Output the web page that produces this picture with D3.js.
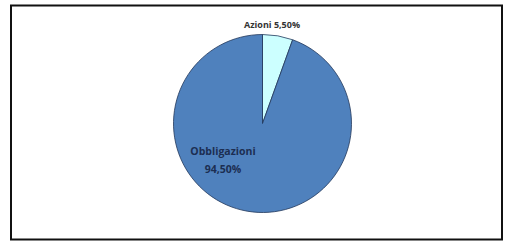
<!DOCTYPE html>
<html>
<head>
<meta charset="utf-8">
<script src="https://cdn.jsdelivr.net/npm/d3@7"></script>
<style>
html,body{margin:0;padding:0;background:#fff;}
svg{display:block;}
</style>
</head>
<body>
<svg id="chart" width="507" height="241"></svg>
<script>
const categories = ["Azioni", "Obbligazioni"];
const values = [5.5, 94.5];
const labels = ["Azioni 5,50%", "Obbligazioni\n94,50%"];
const colors = ["#CCFFFF", "#4F81BD"];

const svg = d3.select("#chart");
svg.append("rect").attr("x", 0).attr("y", 0).attr("width", 507).attr("height", 241).attr("fill", "#fff");
svg.append("rect").attr("x", 11).attr("y", 5.5).attr("width", 491).attr("height", 234)
  .attr("fill", "#fff").attr("stroke", "#111").attr("stroke-width", 2);

const cx = 262.5, cy = 123.5, r = 89;
const pie = d3.pie().sort(null).value(d => d)(values);
const arc = d3.arc().innerRadius(0).outerRadius(r);
const g = svg.append("g").attr("transform", `translate(${cx},${cy})`);
g.selectAll("path").data(pie).join("path")
  .attr("d", arc)
  .attr("fill", (d, i) => colors[i])
  .attr("stroke", "#22375a")
  .attr("stroke-width", 0.8);

// labels
const font = "'Open Sans', 'DejaVu Sans', sans-serif";
svg.append("text").attr("x", 272).attr("y", 28)
  .attr("text-anchor", "middle").attr("font-family", font)
  .attr("font-weight", "bold").attr("font-size", 9).attr("fill", "#333")
  .text(labels[0]);
const lines = labels[1].split("\n");
svg.append("text").attr("x", 223).attr("y", 155)
  .attr("text-anchor", "middle").attr("font-family", font)
  .attr("font-weight", "bold").attr("font-size", 10.5).attr("fill", "#1c2e52")
  .selectAll("tspan").data(lines).join("tspan")
  .attr("x", 223).attr("dy", (d, i) => i ? 18 : 0).text(d => d);
</script>
</body>
</html>
